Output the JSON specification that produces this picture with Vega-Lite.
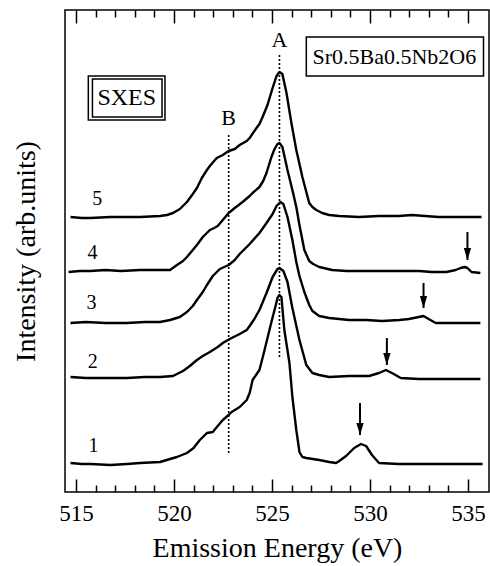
{
  "$schema": "https://vega.github.io/schema/vega-lite/v6.json",
  "width": 424,
  "height": 482,
  "autosize": {"type": "none"},
  "padding": {"left": 65, "top": 10, "right": 1, "bottom": 74},
  "background": "white",
  "config": {"view": {"stroke": "black", "strokeWidth": 1.5}, "font": "Liberation Serif"},
  "datasets": {
    "curves": [
      {"s": "5", "e": 514.72, "v": 275}, {"s": "5", "e": 515.3, "v": 274}, {"s": "5", "e": 515.74, "v": 274}, {"s": "5", "e": 516.75, "v": 275}, {"s": "5", "e": 517.61, "v": 275}, {"s": "5", "e": 518.27, "v": 275}, {"s": "5", "e": 519.29, "v": 276}, {"s": "5", "e": 519.64, "v": 277}, {"s": "5", "e": 519.95, "v": 279}, {"s": "5", "e": 520.3, "v": 283}, {"s": "5", "e": 520.66, "v": 290}, {"s": "5", "e": 520.96, "v": 298}, {"s": "5", "e": 521.17, "v": 304}, {"s": "5", "e": 521.42, "v": 314}, {"s": "5", "e": 521.68, "v": 322}, {"s": "5", "e": 521.83, "v": 326}, {"s": "5", "e": 522.18, "v": 334}, {"s": "5", "e": 522.49, "v": 337}, {"s": "5", "e": 522.79, "v": 341}, {"s": "5", "e": 523.1, "v": 343}, {"s": "5", "e": 523.35, "v": 347}, {"s": "5", "e": 523.71, "v": 351}, {"s": "5", "e": 523.86, "v": 354}, {"s": "5", "e": 524.21, "v": 364}, {"s": "5", "e": 524.36, "v": 368}, {"s": "5", "e": 524.52, "v": 375}, {"s": "5", "e": 524.77, "v": 387}, {"s": "5", "e": 525.03, "v": 404}, {"s": "5", "e": 525.23, "v": 416}, {"s": "5", "e": 525.38, "v": 420}, {"s": "5", "e": 525.53, "v": 418}, {"s": "5", "e": 525.74, "v": 399}, {"s": "5", "e": 525.99, "v": 369}, {"s": "5", "e": 526.24, "v": 342}, {"s": "5", "e": 526.55, "v": 315}, {"s": "5", "e": 526.75, "v": 300}, {"s": "5", "e": 526.9, "v": 289}, {"s": "5", "e": 527.06, "v": 285}, {"s": "5", "e": 527.26, "v": 282}, {"s": "5", "e": 527.56, "v": 279}, {"s": "5", "e": 527.92, "v": 277}, {"s": "5", "e": 528.43, "v": 276}, {"s": "5", "e": 529.44, "v": 275}, {"s": "5", "e": 530.46, "v": 276}, {"s": "5", "e": 531.47, "v": 276}, {"s": "5", "e": 532.13, "v": 277}, {"s": "5", "e": 533.5, "v": 275}, {"s": "5", "e": 534.62, "v": 275}, {"s": "5", "e": 535.69, "v": 275},

      {"s": "4", "e": 514.62, "v": 220}, {"s": "4", "e": 515.2, "v": 221}, {"s": "4", "e": 515.74, "v": 221}, {"s": "4", "e": 516.5, "v": 222}, {"s": "4", "e": 517.3, "v": 221}, {"s": "4", "e": 518.27, "v": 222}, {"s": "4", "e": 519.29, "v": 222}, {"s": "4", "e": 519.8, "v": 222}, {"s": "4", "e": 520.15, "v": 227}, {"s": "4", "e": 520.46, "v": 231}, {"s": "4", "e": 520.66, "v": 235}, {"s": "4", "e": 520.96, "v": 242}, {"s": "4", "e": 521.17, "v": 247}, {"s": "4", "e": 521.47, "v": 255}, {"s": "4", "e": 521.83, "v": 262}, {"s": "4", "e": 522.05, "v": 264}, {"s": "4", "e": 522.23, "v": 266}, {"s": "4", "e": 522.49, "v": 272}, {"s": "4", "e": 522.79, "v": 279}, {"s": "4", "e": 523.1, "v": 284}, {"s": "4", "e": 523.5, "v": 290}, {"s": "4", "e": 523.86, "v": 296}, {"s": "4", "e": 524.01, "v": 299}, {"s": "4", "e": 524.36, "v": 305}, {"s": "4", "e": 524.55, "v": 311}, {"s": "4", "e": 524.72, "v": 319}, {"s": "4", "e": 524.97, "v": 335}, {"s": "4", "e": 525.13, "v": 343}, {"s": "4", "e": 525.28, "v": 348}, {"s": "4", "e": 525.38, "v": 349}, {"s": "4", "e": 525.53, "v": 345}, {"s": "4", "e": 525.79, "v": 322}, {"s": "4", "e": 526.04, "v": 302}, {"s": "4", "e": 526.24, "v": 285}, {"s": "4", "e": 526.4, "v": 267}, {"s": "4", "e": 526.65, "v": 242}, {"s": "4", "e": 526.9, "v": 231}, {"s": "4", "e": 527.1, "v": 228}, {"s": "4", "e": 527.41, "v": 225}, {"s": "4", "e": 528.07, "v": 222}, {"s": "4", "e": 528.8, "v": 221}, {"s": "4", "e": 529.44, "v": 221}, {"s": "4", "e": 530.2, "v": 221}, {"s": "4", "e": 531.47, "v": 221}, {"s": "4", "e": 532.5, "v": 221}, {"s": "4", "e": 533.15, "v": 220}, {"s": "4", "e": 533.9, "v": 220}, {"s": "4", "e": 534.37, "v": 222}, {"s": "4", "e": 534.62, "v": 224}, {"s": "4", "e": 534.82, "v": 225}, {"s": "4", "e": 534.97, "v": 224}, {"s": "4", "e": 535.18, "v": 220}, {"s": "4", "e": 535.63, "v": 219},

      {"s": "3", "e": 514.72, "v": 169}, {"s": "3", "e": 515.5, "v": 170}, {"s": "3", "e": 516.5, "v": 169}, {"s": "3", "e": 517.61, "v": 169}, {"s": "3", "e": 518.5, "v": 170}, {"s": "3", "e": 519.29, "v": 170}, {"s": "3", "e": 519.8, "v": 172}, {"s": "3", "e": 520.3, "v": 175}, {"s": "3", "e": 520.66, "v": 180}, {"s": "3", "e": 520.96, "v": 186}, {"s": "3", "e": 521.17, "v": 192}, {"s": "3", "e": 521.47, "v": 200}, {"s": "3", "e": 521.68, "v": 207}, {"s": "3", "e": 521.98, "v": 216}, {"s": "3", "e": 522.34, "v": 223}, {"s": "3", "e": 522.79, "v": 227}, {"s": "3", "e": 523.1, "v": 232}, {"s": "3", "e": 523.35, "v": 238}, {"s": "3", "e": 523.86, "v": 248}, {"s": "3", "e": 524.36, "v": 259}, {"s": "3", "e": 524.72, "v": 269}, {"s": "3", "e": 525.03, "v": 278}, {"s": "3", "e": 525.23, "v": 286}, {"s": "3", "e": 525.43, "v": 290}, {"s": "3", "e": 525.58, "v": 288}, {"s": "3", "e": 525.79, "v": 275}, {"s": "3", "e": 526.04, "v": 252}, {"s": "3", "e": 526.24, "v": 230}, {"s": "3", "e": 526.4, "v": 216}, {"s": "3", "e": 526.65, "v": 200}, {"s": "3", "e": 526.9, "v": 187}, {"s": "3", "e": 527.06, "v": 181}, {"s": "3", "e": 527.41, "v": 176}, {"s": "3", "e": 527.92, "v": 174}, {"s": "3", "e": 528.93, "v": 172}, {"s": "3", "e": 529.8, "v": 172}, {"s": "3", "e": 530.61, "v": 171}, {"s": "3", "e": 531.5, "v": 172}, {"s": "3", "e": 531.98, "v": 173}, {"s": "3", "e": 532.49, "v": 175}, {"s": "3", "e": 532.73, "v": 176}, {"s": "3", "e": 532.99, "v": 173}, {"s": "3", "e": 533.35, "v": 169}, {"s": "3", "e": 534.01, "v": 169}, {"s": "3", "e": 535.03, "v": 169}, {"s": "3", "e": 535.63, "v": 169},

      {"s": "2", "e": 514.72, "v": 115}, {"s": "2", "e": 515.5, "v": 114}, {"s": "2", "e": 516.5, "v": 114}, {"s": "2", "e": 517.61, "v": 114}, {"s": "2", "e": 518.5, "v": 115}, {"s": "2", "e": 519.29, "v": 115}, {"s": "2", "e": 519.95, "v": 116}, {"s": "2", "e": 520.15, "v": 118}, {"s": "2", "e": 520.46, "v": 121}, {"s": "2", "e": 520.81, "v": 126}, {"s": "2", "e": 521.17, "v": 132}, {"s": "2", "e": 521.47, "v": 136}, {"s": "2", "e": 521.83, "v": 140}, {"s": "2", "e": 522.23, "v": 145}, {"s": "2", "e": 522.49, "v": 149}, {"s": "2", "e": 522.84, "v": 153}, {"s": "2", "e": 523.35, "v": 158}, {"s": "2", "e": 523.71, "v": 162}, {"s": "2", "e": 523.86, "v": 166}, {"s": "2", "e": 524.1, "v": 173}, {"s": "2", "e": 524.36, "v": 182}, {"s": "2", "e": 524.72, "v": 199}, {"s": "2", "e": 525.03, "v": 215}, {"s": "2", "e": 525.28, "v": 223}, {"s": "2", "e": 525.38, "v": 224}, {"s": "2", "e": 525.58, "v": 221}, {"s": "2", "e": 525.79, "v": 210}, {"s": "2", "e": 526.04, "v": 184}, {"s": "2", "e": 526.4, "v": 152}, {"s": "2", "e": 526.75, "v": 127}, {"s": "2", "e": 527.06, "v": 119}, {"s": "2", "e": 527.41, "v": 117}, {"s": "2", "e": 527.92, "v": 115}, {"s": "2", "e": 528.93, "v": 116}, {"s": "2", "e": 529.95, "v": 116}, {"s": "2", "e": 530.46, "v": 119}, {"s": "2", "e": 530.81, "v": 122}, {"s": "2", "e": 531.12, "v": 119}, {"s": "2", "e": 531.57, "v": 114}, {"s": "2", "e": 532.49, "v": 113}, {"s": "2", "e": 533.5, "v": 113}, {"s": "2", "e": 534.62, "v": 113}, {"s": "2", "e": 535.63, "v": 113},

      {"s": "1", "e": 514.72, "v": 29}, {"s": "1", "e": 515.3, "v": 28}, {"s": "1", "e": 515.74, "v": 28}, {"s": "1", "e": 516.75, "v": 27}, {"s": "1", "e": 517.61, "v": 28}, {"s": "1", "e": 518.27, "v": 29}, {"s": "1", "e": 519.29, "v": 30}, {"s": "1", "e": 519.8, "v": 33}, {"s": "1", "e": 520.15, "v": 35}, {"s": "1", "e": 520.66, "v": 39}, {"s": "1", "e": 521.0, "v": 44}, {"s": "1", "e": 521.32, "v": 52}, {"s": "1", "e": 521.68, "v": 59}, {"s": "1", "e": 521.98, "v": 60}, {"s": "1", "e": 522.23, "v": 66}, {"s": "1", "e": 522.49, "v": 72}, {"s": "1", "e": 522.79, "v": 77}, {"s": "1", "e": 522.94, "v": 80}, {"s": "1", "e": 523.35, "v": 85}, {"s": "1", "e": 523.71, "v": 92}, {"s": "1", "e": 523.86, "v": 99}, {"s": "1", "e": 524.01, "v": 112}, {"s": "1", "e": 524.36, "v": 122}, {"s": "1", "e": 524.62, "v": 142}, {"s": "1", "e": 524.97, "v": 170}, {"s": "1", "e": 525.13, "v": 182}, {"s": "1", "e": 525.28, "v": 194}, {"s": "1", "e": 525.38, "v": 197}, {"s": "1", "e": 525.48, "v": 195}, {"s": "1", "e": 525.63, "v": 162}, {"s": "1", "e": 525.89, "v": 129}, {"s": "1", "e": 526.04, "v": 95}, {"s": "1", "e": 526.24, "v": 62}, {"s": "1", "e": 526.4, "v": 40}, {"s": "1", "e": 526.55, "v": 35}, {"s": "1", "e": 526.75, "v": 34}, {"s": "1", "e": 527.41, "v": 32}, {"s": "1", "e": 527.92, "v": 30}, {"s": "1", "e": 528.27, "v": 29}, {"s": "1", "e": 528.43, "v": 31}, {"s": "1", "e": 528.78, "v": 36}, {"s": "1", "e": 529.19, "v": 44}, {"s": "1", "e": 529.54, "v": 48}, {"s": "1", "e": 529.8, "v": 46}, {"s": "1", "e": 530.1, "v": 37}, {"s": "1", "e": 530.46, "v": 29}, {"s": "1", "e": 531.47, "v": 28}, {"s": "1", "e": 533.5, "v": 28}, {"s": "1", "e": 535.74, "v": 28}
    ],
    "guides": [
      {"x": 525.38, "lo": 135, "hi": 437},
      {"x": 522.79, "lo": 39, "hi": 359}
    ],
    "arrows": [
      {"x": 529.49, "lo": 57, "hi": 89},
      {"x": 530.86, "lo": 127, "hi": 154},
      {"x": 532.73, "lo": 184, "hi": 209},
      {"x": 534.97, "lo": 232, "hi": 260}
    ],
    "curveLabels": [
      {"x": 516.09, "v": 293, "t": "5"},
      {"x": 515.84, "v": 239, "t": "4"},
      {"x": 515.79, "v": 189, "t": "3"},
      {"x": 515.86, "v": 130, "t": "2"},
      {"x": 515.89, "v": 46, "t": "1"}
    ],
    "peakLabels": [
      {"x": 525.38, "v": 452, "t": "A"},
      {"x": 522.79, "v": 374, "t": "B"}
    ],
    "sxes": [{"x": 517.59, "v": 394, "t": "SXES"}],
    "formula": [{"x": 531.24, "v": 435, "t": "Sr0.5Ba0.5Nb2O6"}],
    "boxes": [
      {"x": 515.63, "x2": 519.54, "y": 416, "y2": 372},
      {"x": 515.84, "x2": 519.39, "y": 413, "y2": 375},
      {"x": 526.75, "x2": 535.79, "y": 455, "y2": 416}
    ]
  },
  "resolve": {"axis": {"x": "independent", "y": "independent"}},
  "layer": [
    {
      "data": {"name": "curves"},
      "mark": {"type": "line", "color": "black", "strokeWidth": 2.4, "strokeJoin": "round"},
      "encoding": {
        "x": {"field": "e", "type": "quantitative",
          "scale": {"domain": [514.44, 536.07], "nice": false, "zero": false},
          "axis": {"orient": "bottom", "values": [515, 516, 517, 518, 519, 520, 521, 522, 523, 524, 525, 526, 527, 528, 529, 530, 531, 532, 533, 534, 535], "labelExpr": "datum.value % 5 === 0 ? datum.label : ''", "format": "d", "tickSize": {"condition": {"test": "datum.value % 5 === 0", "value": -13}, "value": -7}, "tickWidth": 1.5, "tickColor": "black", "domain": false, "grid": false, "labelFont": "Liberation Serif", "labelFontSize": 23, "labelColor": "black", "labelPadding": 23, "labelFlush": false, "labelOverlap": false, "title": "Emission Energy (eV)", "titleFont": "Liberation Serif", "titleFontSize": 28, "titleFontWeight": "normal", "titleColor": "black", "titlePadding": 3}},
        "y": {"field": "v", "type": "quantitative",
          "scale": {"domain": [0, 482], "nice": false, "zero": false},
          "axis": {"orient": "left", "ticks": false, "labels": false, "domain": false, "grid": false, "title": "Intensity (arb.units)", "titleFont": "Liberation Serif", "titleFontSize": 28, "titleFontWeight": "normal", "titleColor": "black", "titlePadding": 25}},
        "detail": {"field": "s", "type": "nominal"}
      }
    },
    {
      "data": {"name": "guides"},
      "mark": {"type": "rule", "color": "black", "strokeWidth": 1.6, "strokeDash": [2, 2]},
      "encoding": {
        "x": {"field": "x", "type": "quantitative", "scale": {"domain": [514.44, 536.07], "nice": false, "zero": false},
          "axis": {"orient": "top", "values": [515, 516, 517, 518, 519, 520, 521, 522, 523, 524, 525, 526, 527, 528, 529, 530, 531, 532, 533, 534, 535], "tickSize": {"condition": {"test": "datum.value % 5 === 0", "value": -13}, "value": -7}, "tickWidth": 1.5, "tickColor": "black", "domain": false, "grid": false, "labels": false, "title": null}},
        "y": {"field": "lo", "type": "quantitative", "scale": {"domain": [0, 482], "nice": false, "zero": false}, "axis": null},
        "y2": {"field": "hi"}
      }
    },
    {
      "data": {"name": "arrows"},
      "mark": {"type": "rule", "color": "black", "strokeWidth": 2},
      "encoding": {
        "x": {"field": "x", "type": "quantitative", "axis": null},
        "y": {"field": "lo", "type": "quantitative", "axis": null},
        "y2": {"field": "hi"}
      }
    },
    {
      "data": {"name": "arrows"},
      "mark": {"type": "point", "filled": true, "color": "black", "opacity": 1, "shape": "M-0.6,-1L0.6,-1L0,1Z", "size": 150, "yOffset": -6},
      "encoding": {
        "x": {"field": "x", "type": "quantitative", "axis": null},
        "y": {"field": "lo", "type": "quantitative", "axis": null}
      }
    },
    {
      "data": {"name": "boxes"},
      "mark": {"type": "rect", "fillOpacity": 0, "stroke": "black", "strokeWidth": 1.5},
      "encoding": {
        "x": {"field": "x", "type": "quantitative", "axis": null},
        "x2": {"field": "x2"},
        "y": {"field": "y", "type": "quantitative", "axis": null},
        "y2": {"field": "y2"}
      }
    },
    {
      "data": {"name": "curveLabels"},
      "mark": {"type": "text", "font": "Liberation Serif", "fontSize": 20, "color": "black", "baseline": "middle", "align": "center"},
      "encoding": {
        "x": {"field": "x", "type": "quantitative", "axis": null},
        "y": {"field": "v", "type": "quantitative", "axis": null},
        "text": {"field": "t"}
      }
    },
    {
      "data": {"name": "peakLabels"},
      "mark": {"type": "text", "font": "Liberation Serif", "fontSize": 22, "color": "black", "baseline": "middle", "align": "center"},
      "encoding": {
        "x": {"field": "x", "type": "quantitative", "axis": null},
        "y": {"field": "v", "type": "quantitative", "axis": null},
        "text": {"field": "t"}
      }
    },
    {
      "data": {"name": "sxes"},
      "mark": {"type": "text", "font": "Liberation Serif", "fontSize": 24, "color": "black", "baseline": "middle", "align": "center"},
      "encoding": {
        "x": {"field": "x", "type": "quantitative", "axis": null},
        "y": {"field": "v", "type": "quantitative", "axis": null},
        "text": {"field": "t"}
      }
    },
    {
      "data": {"name": "formula"},
      "mark": {"type": "text", "font": "Liberation Serif", "fontSize": 22, "color": "black", "baseline": "middle", "align": "center"},
      "encoding": {
        "x": {"field": "x", "type": "quantitative", "axis": null},
        "y": {"field": "v", "type": "quantitative", "axis": null},
        "text": {"field": "t"}
      }
    }
  ]
}
